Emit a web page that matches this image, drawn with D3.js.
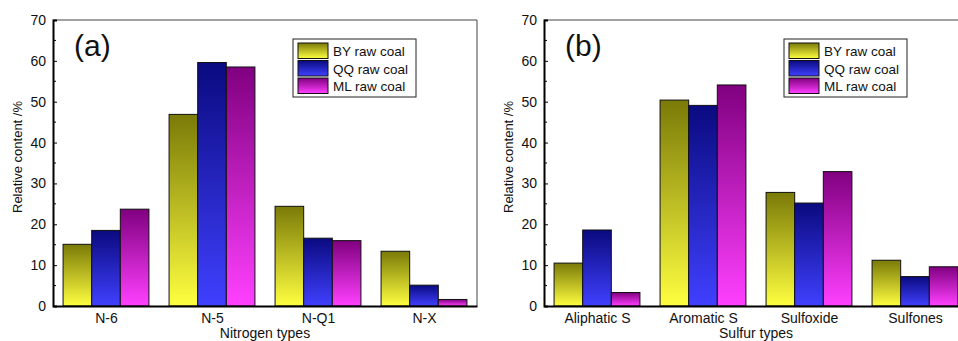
<!DOCTYPE html>
<html>
<head>
<meta charset="utf-8">
<script src="https://cdn.jsdelivr.net/npm/d3@7"></script>
<style>
  body { margin: 0; background: #fff; }
  svg { display: block; font-family: Arial, "Liberation Sans", sans-serif; }
</style>
</head>
<body>
<svg id="chart" width="958" height="341"></svg>
<script>
// Data
const seriesNames = ['BY raw coal', 'QQ raw coal', 'ML raw coal'];
const nitrogenTypes = ['N-6', 'N-5', 'N-Q1', 'N-X'];
const nitrogenBY = [15.1, 46.9, 24.4, 13.4];
const nitrogenQQ = [18.5, 59.6, 16.6, 5.1];
const nitrogenML = [23.7, 58.5, 16.0, 1.6];
const sulfurTypes = ['Aliphatic S', 'Aromatic S', 'Sulfoxide', 'Sulfones'];
const sulfurBY = [10.5, 50.4, 27.8, 11.2];
const sulfurQQ = [18.6, 49.1, 25.2, 7.2];
const sulfurML = [3.3, 54.1, 32.9, 9.6];
const yTicks = [0, 10, 20, 30, 40, 50, 60, 70];

const colors = [
    { top: '#7a7a08', bottom: '#ffff40' },
    { top: '#0a0a80', bottom: '#4040ff' },
    { top: '#800080', bottom: '#ff40ff' }
];

const svg = d3.select('#chart');
const defs = svg.append('defs');
colors.forEach((c, i) => {
    const g = defs.append('linearGradient')
        .attr('id', `grad${i}`)
        .attr('x1', 0).attr('y1', 0).attr('x2', 0).attr('y2', 1);
    g.append('stop').attr('offset', '0%').attr('stop-color', c.top);
    g.append('stop').attr('offset', '100%').attr('stop-color', c.bottom);
});

function drawPanel(offsetX, letter, categories, values, xTitle) {
    const left = offsetX + 53, top = 20, bottom = 306;
    const width = 424;
    const root = svg.append('g');

    const x = d3.scaleLinear().domain([0.5, categories.length + 0.5]).range([left, left + width]);
    const y = d3.scaleLinear().domain([0, 70]).range([bottom, top]);
    const step = x(2) - x(1);
    const barW = step * 0.27;

    // frame (top / right thin)
    root.append('line').attr('x1', left).attr('x2', left + width).attr('y1', top).attr('y2', top)
        .attr('stroke', '#444').attr('stroke-width', 1);
    root.append('line').attr('x1', left + width).attr('x2', left + width).attr('y1', top).attr('y2', bottom)
        .attr('stroke', '#444').attr('stroke-width', 1);

    // bars
    values.forEach((series, si) => {
        root.append('g').selectAll('rect')
            .data(series)
            .enter()
            .append('rect')
            .attr('x', (d, i) => x(i + 1) + (si - 1.5) * barW)
            .attr('y', d => y(d))
            .attr('width', barW)
            .attr('height', d => y(0) - y(d))
            .attr('fill', `url(#grad${si})`)
            .attr('stroke', '#111')
            .attr('stroke-width', 1);
    });

    // y axis
    const yAxis = root.append('g')
        .attr('transform', `translate(${left},0)`)
        .call(d3.axisLeft(y).tickValues(yTicks).tickSize(-4).tickPadding(7));
    yAxis.select('.domain').attr('stroke', '#000').attr('stroke-width', 2);
    yAxis.selectAll('.tick line').attr('stroke', '#000');
    yAxis.selectAll('text').style('font-size', '14px').attr('fill', '#111');

    // minor ticks
    root.append('g').selectAll('line')
        .data(yTicks.slice(0, -1).map(v => v + 5))
        .enter()
        .append('line')
        .attr('x1', left).attr('x2', left + 3)
        .attr('y1', d => y(d)).attr('y2', d => y(d))
        .attr('stroke', '#000');

    // x axis
    const xAxis = root.append('g')
        .attr('transform', `translate(0,${bottom})`)
        .call(d3.axisBottom(x).tickValues(d3.range(1, categories.length + 1))
            .tickFormat(i => categories[i - 1]).tickSize(0).tickPadding(7));
    xAxis.select('.domain').attr('stroke', '#000').attr('stroke-width', 2);
    xAxis.selectAll('text').style('font-size', '14px').attr('fill', '#111');

    // axis titles
    root.append('text')
        .attr('x', left + 212).attr('y', 338)
        .attr('text-anchor', 'middle').style('font-size', '14px').attr('fill', '#111')
        .text(xTitle);
    root.append('text')
        .attr('transform', `translate(${left - 31},157) rotate(-90)`)
        .attr('text-anchor', 'middle').style('font-size', '13px').attr('fill', '#111')
        .text('Relative content /%');

    // panel letter
    root.append('text')
        .attr('x', left + 21).attr('y', 56)
        .style('font-size', '30px').attr('fill', '#111')
        .text(letter);

    // legend
    const lg = root.append('g').attr('transform', `translate(${left + 240},39)`);
    lg.append('rect').attr('width', 123).attr('height', 58)
        .attr('fill', '#fff').attr('stroke', '#222').attr('stroke-width', 1);
    seriesNames.forEach((name, i) => {
        lg.append('rect')
            .attr('x', 5).attr('y', 4 + i * 17.5)
            .attr('width', 30).attr('height', 15.5)
            .attr('fill', `url(#grad${i})`)
            .attr('stroke', '#111');
        lg.append('text')
            .attr('x', 40).attr('y', 17 + i * 17.5)
            .style('font-size', '13.5px').attr('fill', '#111')
            .text(name);
    });
}

drawPanel(0, '(a)', nitrogenTypes, [nitrogenBY, nitrogenQQ, nitrogenML], 'Nitrogen types');
drawPanel(491, '(b)', sulfurTypes, [sulfurBY, sulfurQQ, sulfurML], 'Sulfur types');
</script>
</body>
</html>
